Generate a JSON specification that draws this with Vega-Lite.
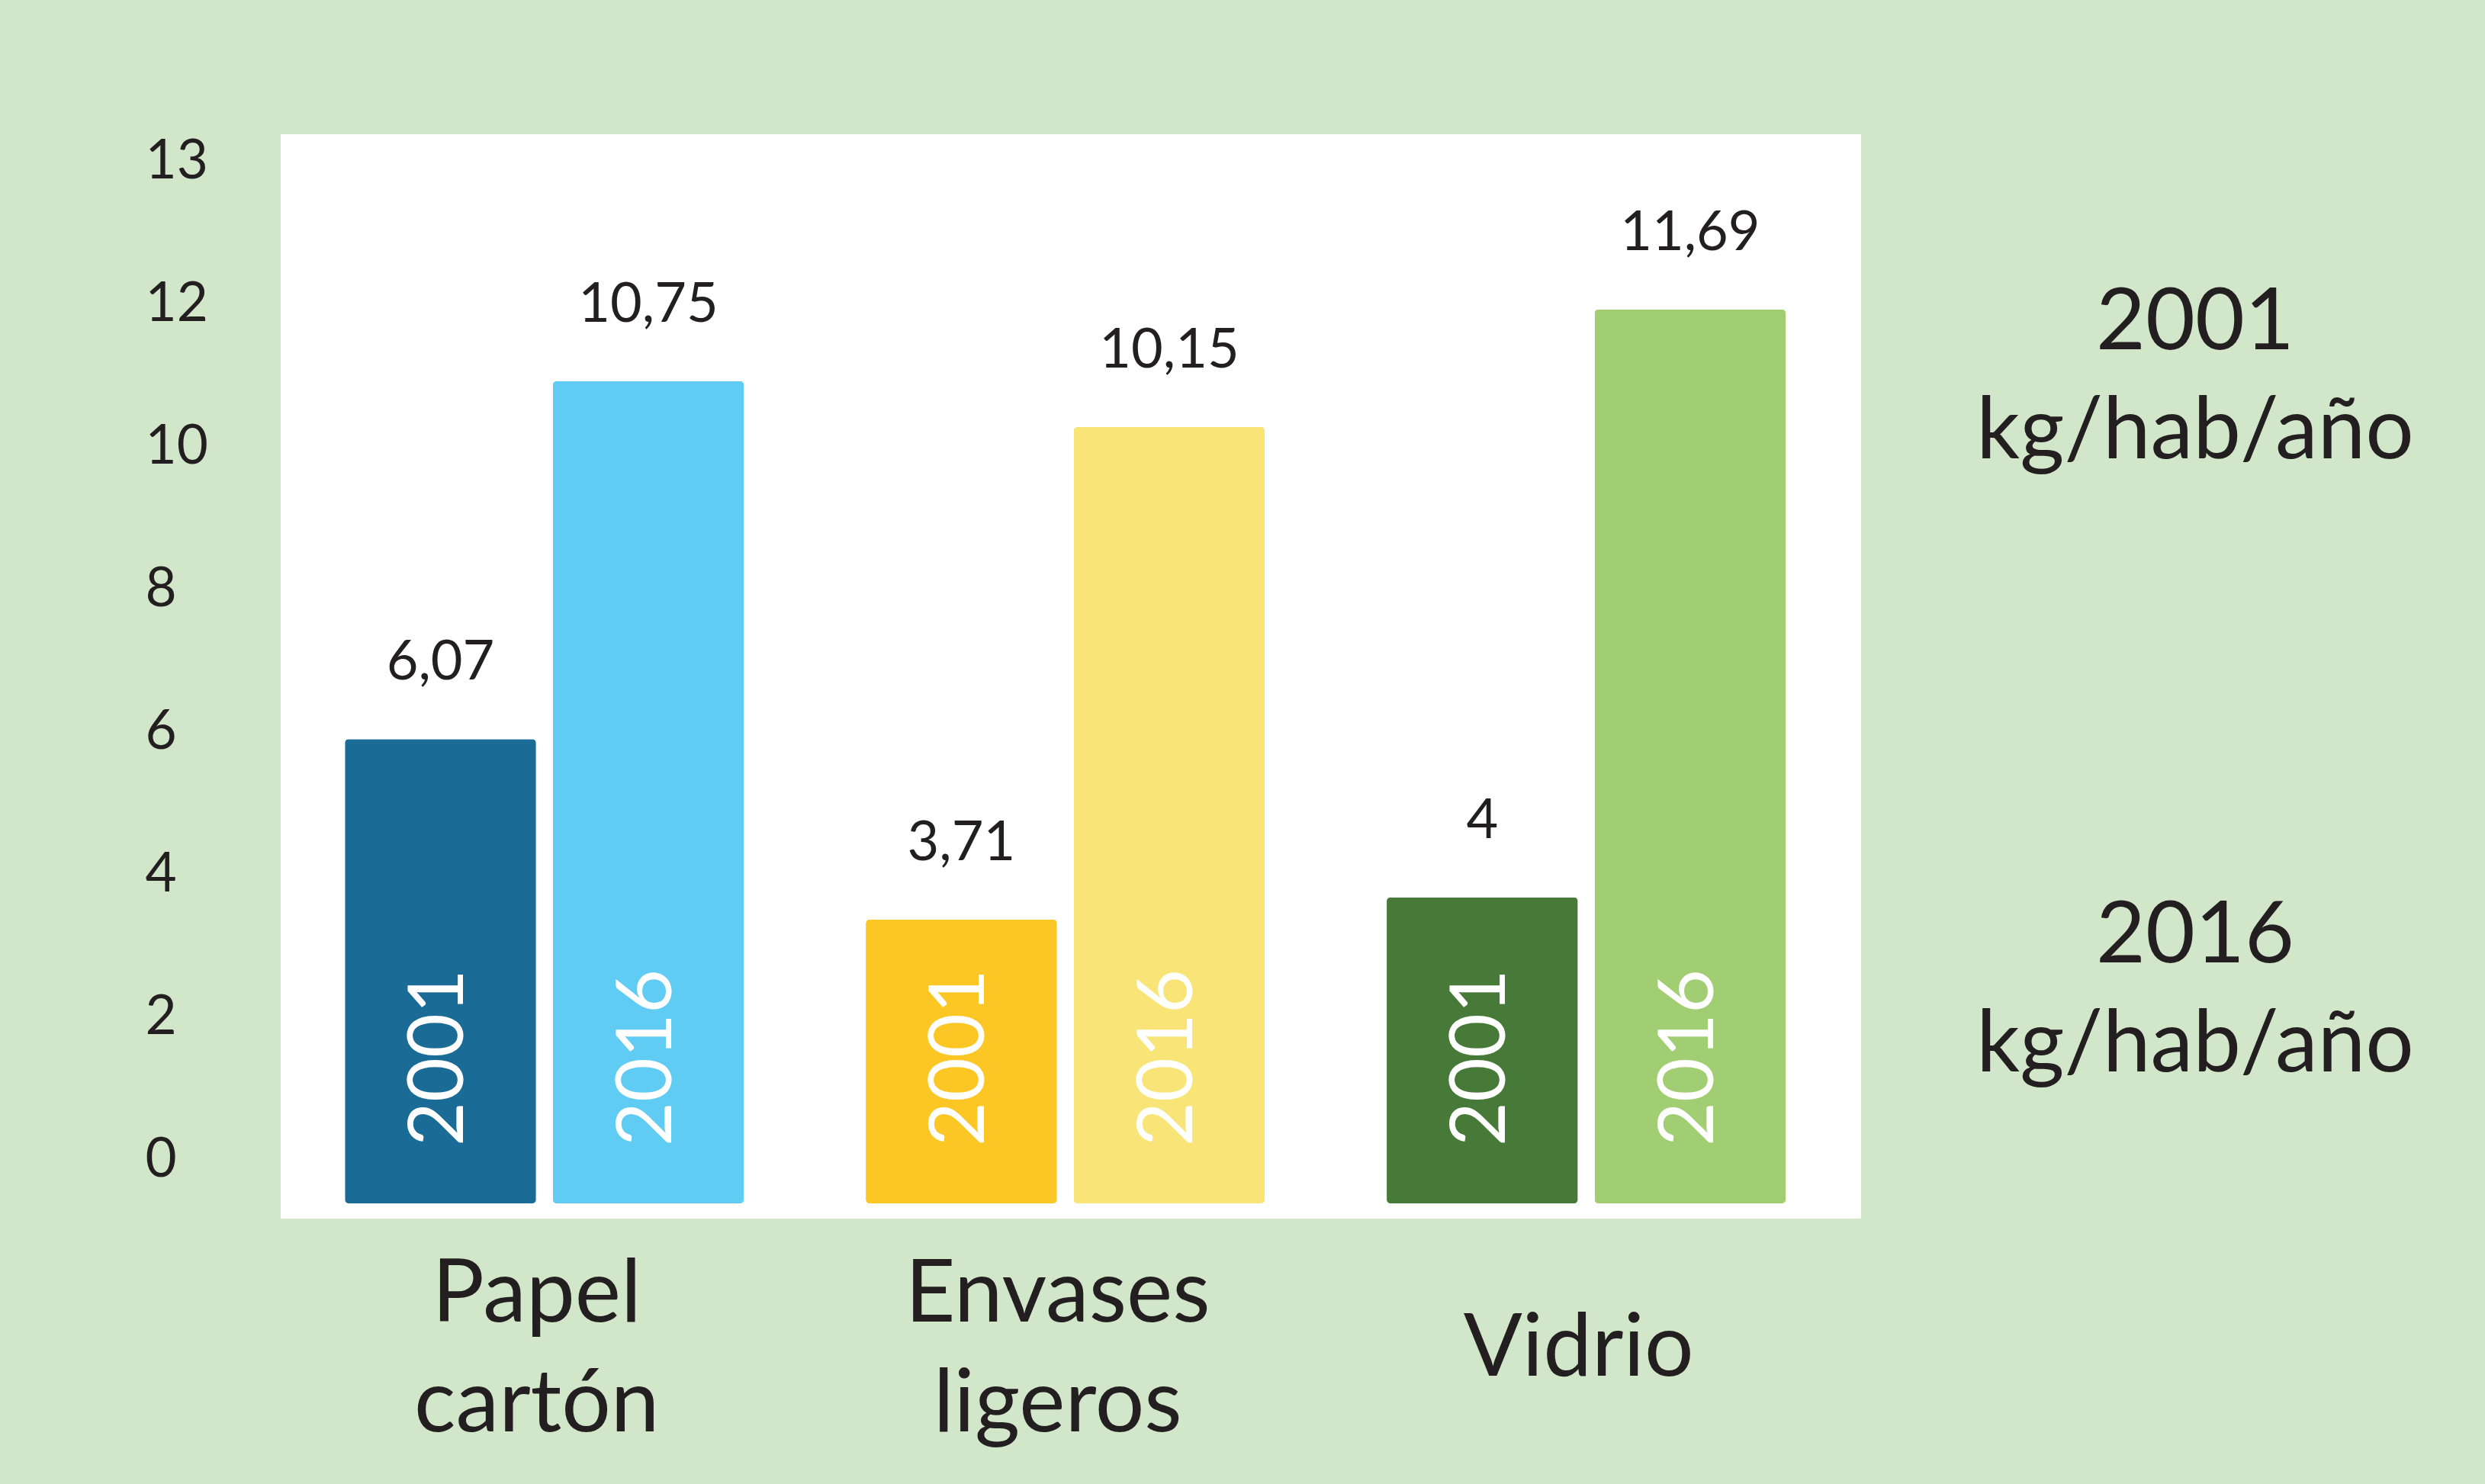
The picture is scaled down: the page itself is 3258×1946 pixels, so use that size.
{
  "$schema": "https://vega.github.io/schema/vega-lite/v6.json",
  "background": "#d2e7c9",
  "padding": {"left": 190, "top": 176, "right": 0, "bottom": 100},
  "autosize": {"type": "pad"},
  "bounds": "flush",
  "spacing": 0,
  "config": {
    "locale": {"number": {"decimal": ",", "thousands": ".", "grouping": [3], "currency": ["", " €"]}},
    "view": {"stroke": null},
    "font": "Lato"
  },
  "hconcat": [
    {
      "width": 2072,
      "height": 1422,
      "view": {"fill": "#ffffff", "stroke": null},
      "resolve": {"scale": {"y": "independent"}},
      "layer": [
        {
          "data": {"values": [
            {"material": "Papel cartón", "year": "2001", "value": 6.07},
            {"material": "Papel cartón", "year": "2016", "value": 10.75},
            {"material": "Envases ligeros", "year": "2001", "value": 3.71},
            {"material": "Envases ligeros", "year": "2016", "value": 10.15},
            {"material": "Vidrio", "year": "2001", "value": 4},
            {"material": "Vidrio", "year": "2016", "value": 11.69}
          ]},
          "encoding": {
            "x": {
              "field": "material", "type": "nominal",
              "sort": ["Papel cartón", "Envases ligeros", "Vidrio"],
              "scale": {"paddingInner": 0.234, "paddingOuter": 0.134, "align": 0.46},
              "axis": {
                "orient": "bottom", "title": null, "domain": false, "ticks": false, "tickSize": 0,
                "labelAngle": 0, "labelFontSize": 114, "labelFont": "Lato", "labelColor": "#231f20",
                "labelPadding": {"condition": {"test": "datum.value === 'Vidrio'", "value": 205}, "value": 134},
                "labelBaseline": "alphabetic", "labelLineHeight": 144,
                "labelExpr": "split(datum.label, ' ')", "labelOffset": -10, "labelLimit": 0, "grid": false
              }
            },
            "xOffset": {"field": "year", "type": "nominal", "scale": {"paddingInner": 0.0807, "paddingOuter": 0}},
            "y": {"field": "value", "type": "quantitative", "scale": {"domain": [-0.2, 13.98], "nice": false, "zero": false}, "axis": null}
          },
          "resolve": {"scale": {"color": "independent"}},
          "layer": [
            {
              "transform": [{"filter": "datum.year === '2001'"}],
              "mark": {"type": "bar", "cornerRadius": 5},
              "encoding": {"color": {"field": "material", "type": "nominal", "scale": {"domain": ["Papel cartón", "Envases ligeros", "Vidrio"], "range": ["#1b6b97", "#fcc624", "#477938"]}, "legend": null}}
            },
            {
              "transform": [{"filter": "datum.year === '2016'"}],
              "mark": {"type": "bar", "cornerRadius": 5},
              "encoding": {"color": {"field": "material", "type": "nominal", "scale": {"domain": ["Papel cartón", "Envases ligeros", "Vidrio"], "range": ["#60ccf3", "#f9e577", "#a2ce73"]}, "legend": null}}
            },
            {
              "mark": {"type": "text", "angle": 270, "align": "left", "baseline": "middle", "dx": 75, "fontSize": 100, "color": "#ffffff", "font": "Lato"},
              "encoding": {"y": {"datum": 0, "type": "quantitative"}, "text": {"field": "year"}}
            },
            {
              "mark": {"type": "text", "align": "center", "baseline": "alphabetic", "dy": -78, "fontSize": 72, "color": "#231f20", "font": "Lato"},
              "encoding": {"text": {"field": "value", "type": "quantitative", "format": ".2~f"}}
            }
          ]
        },
        {
          "data": {"values": [
            {"tick": "13"}, {"tick": "12"}, {"tick": "10"}, {"tick": "8"},
            {"tick": "6"}, {"tick": "4"}, {"tick": "2"}, {"tick": "0"}
          ]},
          "mark": {"type": "point", "opacity": 0},
          "encoding": {
            "y": {
              "field": "tick", "type": "ordinal",
              "scale": {"type": "point", "domain": ["13", "12", "10", "8", "6", "4", "2", "0"], "padding": 0.302, "align": 0.32},
              "axis": {
                "orient": "left", "title": null, "domain": false, "ticks": false, "tickSize": 0, "grid": false,
                "labelAlign": "left", "labelBaseline": "middle", "labelPadding": 178,
                "labelFontSize": 71, "labelFont": "Lato", "labelColor": "#231f20", "labelOverlap": false
              }
            }
          }
        }
      ]
    },
    {
      "width": 876,
      "height": 1422,
      "view": {"fill": null, "stroke": null},
      "data": {"values": [
        {"year": "2001", "legend": "2001 kg/hab/año"},
        {"year": "2016", "legend": "2016 kg/hab/año"}
      ]},
      "mark": {"type": "text", "fontSize": 112, "color": "#231f20", "align": "center", "baseline": "alphabetic", "lineBreak": " ", "lineHeight": 143, "font": "Lato"},
      "encoding": {
        "y": {"field": "year", "type": "ordinal", "scale": {"type": "point", "padding": 0.3843, "align": 0.456}, "axis": null},
        "text": {"field": "legend"}
      }
    }
  ]
}
